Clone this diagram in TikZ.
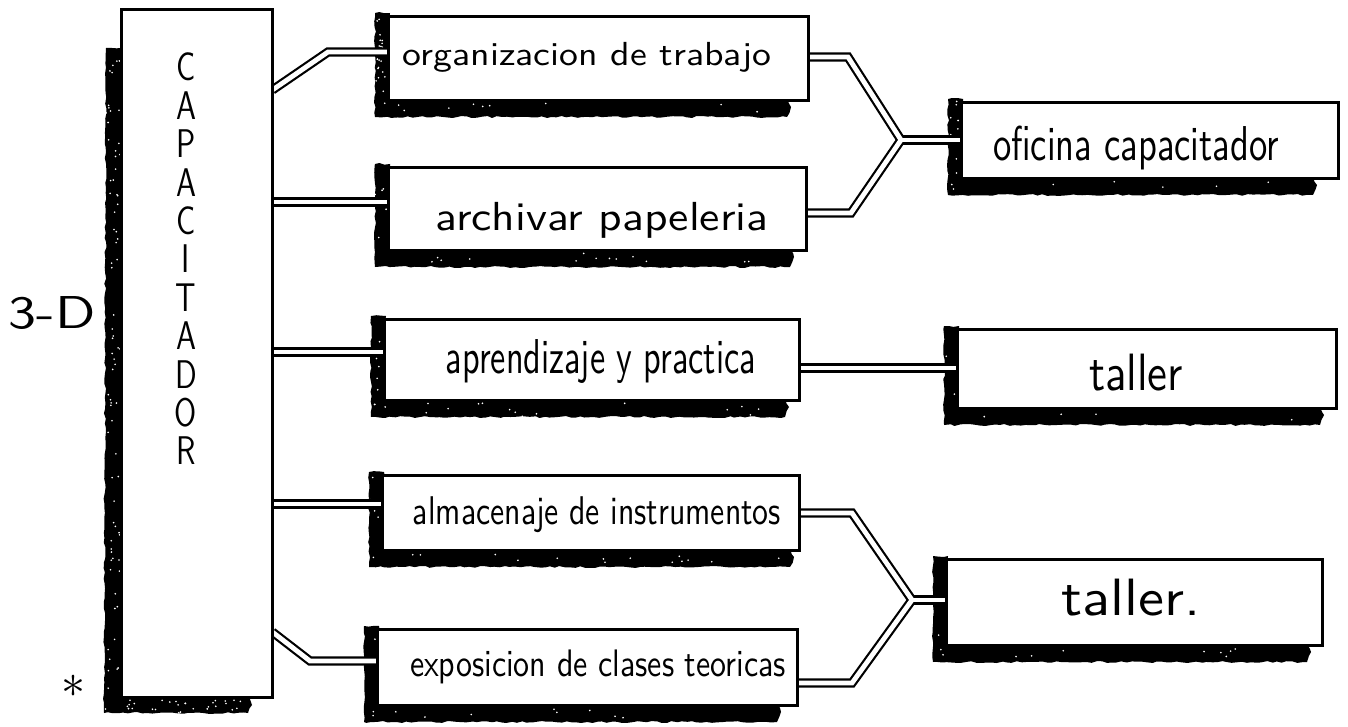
\documentclass[tikz,border=0pt]{standalone}
\usetikzlibrary{decorations.pathmorphing,calc}
\newdimen\pxu
\pxu=0.5pt
\newcommand\hw[3]{\resizebox*{#1\pxu}{#2\pxu}{\sffamily #3}}
\newcommand\boxshad[4]{%
  \fill[shad] (#1-14,#2-4) -- (#1+1,#2-4) -- (#1+1,#3-1) -- (#4,#3-1) -- (#4+4,#3+7) -- (#4,#3+17) -- (#1-14,#3+17) -- cycle;}
\newcommand\speck[5]{\foreach \i in {1,...,#5}{\fill[white] ({#1+rnd*#3},{#2+rnd*#4}) circle (0.45pt);}}
\begin{document}
\begin{tikzpicture}[x=0.5pt,y=-0.5pt,
  box/.style={draw=black,line width=1.3pt,fill=white,inner sep=0pt,rectangle},
  txt/.style={inner sep=0pt},
  shad/.style={fill=black,decorate,decoration={random steps,segment length=2.5pt,amplitude=0.5pt}},
  conout/.style={draw=black,line width=4.6pt,line join=miter},
  conin/.style={draw=white,line width=2.4pt,line join=miter},
  letter/.style={inner sep=0pt,font=\fontsize{20}{20}\selectfont\sffamily}]
\pgfmathsetseed{11}
\useasboundingbox (0,0) rectangle (1348,727);
\fill[white] (0,0) rectangle (1348,727);

% ---- boxes as nodes (named first; outlines drawn later on top)
\path
  node[minimum width=150\pxu,minimum height=687\pxu,inner sep=0pt] (main) at (197,353.5) {}
  node[minimum width=419\pxu,minimum height=83\pxu,inner sep=0pt] (org) at (598.5,58.5) {}
  node[minimum width=417\pxu,minimum height=82\pxu,inner sep=0pt] (arch) at (597.5,209) {}
  node[minimum width=414\pxu,minimum height=80\pxu,inner sep=0pt] (apr) at (592,360) {}
  node[minimum width=416\pxu,minimum height=74\pxu,inner sep=0pt] (alm) at (591,513) {}
  node[minimum width=419\pxu,minimum height=75\pxu,inner sep=0pt] (exp) at (587.5,667.5) {}
  node[minimum width=376\pxu,minimum height=75\pxu,inner sep=0pt] (ofi) at (1150,140.5) {}
  node[minimum width=378\pxu,minimum height=78\pxu,inner sep=0pt] (tal1) at (1147,369) {}
  node[minimum width=375\pxu,minimum height=85\pxu,inner sep=0pt] (tal2) at (1134.5,602.5) {};

% ---- shadows
\fill[shad] (106,48) -- (123,48) -- (123,696) -- (248,696) -- (252,705) -- (248,713) -- (104,713) -- cycle;
\speck{108}{60}{12}{645}{70}
\speck{125}{700}{120}{10}{25}
\boxshad{389}{17}{100}{787}
\boxshad{389}{168}{250}{790}
\boxshad{385}{320}{400}{785}
\boxshad{383}{476}{550}{790}
\boxshad{378}{630}{705}{777}
\boxshad{962}{103}{178}{1313}
\boxshad{958}{330}{408}{1320}
\boxshad{947}{560}{645}{1307}
\foreach \L/\T/\B/\R in {389/17/100/787,389/168/250/790,385/320/400/785,383/476/550/790,378/630/705/777,962/103/178/1313,958/330/408/1320,947/560/645/1307}{
  \speck{\L-12}{\T}{10}{\B-\T+12}{12}
  \speck{\L+4}{\B+3}{\R-\L-10}{10}{28}
}

% ---- connectors (double lines: black outer pass, then white inner pass)
\foreach \s in {conout,conin}{
  \draw[\s] (main.east |- 0,90) -- (328,52) -- (org.west |- 0,52);
  \draw[\s] (main.east |- 0,202) -- (arch.west |- 0,202);
  \draw[\s] (main.east |- 0,352) -- (apr.west |- 0,352);
  \draw[\s] (main.east |- 0,504) -- (alm.west |- 0,504);
  \draw[\s] (main.east |- 0,632) -- (310,661) -- (exp.west |- 0,661);
  \draw[\s] (apr.east |- 0,368) -- (tal1.west |- 0,368);
  \draw[\s] (org.east |- 0,57) -- (848,57) -- (901,140);
  \draw[\s] (arch.east |- 0,213) -- (851,213) -- (901,140);
  \draw[\s] (899,140) -- (ofi.west |- 0,140);
  \draw[\s] (alm.east |- 0,513) -- (852,513) -- (912,600);
  \draw[\s] (exp.east |- 0,683) -- (852,683) -- (912,600);
  \draw[\s] (910,600) -- (tal2.west |- 0,600);
}

% ---- box outlines
\foreach \n in {main,org,arch,apr,alm,exp,ofi,tal1,tal2}{
  \draw[box] (\n.north west) rectangle (\n.south east);
}

% ---- texts
\node[txt] (orgT) at (587,57) {\hw{368}{30}{organizacion de trabajo}};
\node[txt] (archT) at (602,220) {\hw{333}{36}{archivar papeleria}};
\node[txt] (aprT) at (601,362) {\hw{310}{44}{aprendizaje y practica}};
\node[txt] (almT) at (597,515) {\hw{368}{36}{almacenaje de instrumentos}};
\node[txt] (expT) at (598,667) {\hw{376}{34}{exposicion de clases teoricas}};
\node[txt] (ofiT) at (1136,148) {\hw{286}{44}{oficina capacitador}};
\node[txt] (tal1T) at (1136,373) {\hw{94}{37}{taller}};
\node[txt] (tal2T) at (1131,598) {\hw{139}{37}{taller.}};
\node[txt] (threeD) at (52,313) {\hw{87}{33}{3-D}};
\node[txt] (ast) at (73,686) {\resizebox{24\pxu}{!}{$\ast$}};

\foreach \ch [count=\k from 0] in {C,A,P,A,C,I,T,A,D,O,R}{
  \node[letter] (L\k) at (186,67+38.4*\k) {\scalebox{0.8}[1]{\ch}};
}
\end{tikzpicture}
\end{document}
